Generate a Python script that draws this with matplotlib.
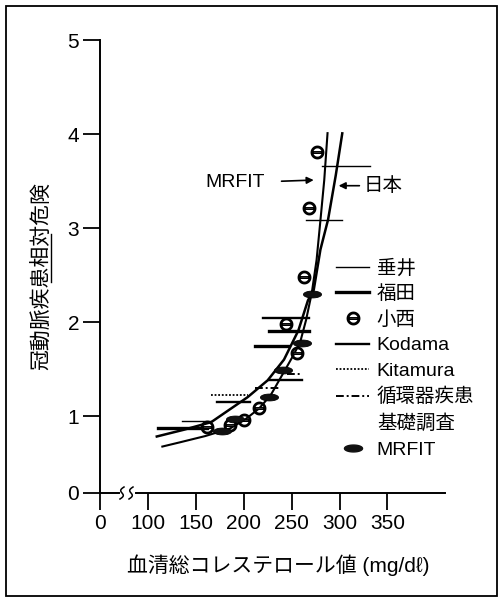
import numpy as np
import matplotlib
matplotlib.use("Agg")
import matplotlib.pyplot as plt
from matplotlib.path import Path
from matplotlib.lines import Line2D
from matplotlib.patches import Rectangle

plt.rcParams['font.family'] = ['Liberation Sans', 'Noto Sans CJK JP', 'DejaVu Sans']

# ---------------- data ----------------
x_ticks = [0, 100, 150, 200, 250, 300, 350]
x_tick_labels = ['0', '100', '150', '200', '250', '300', '350']
y_ticks = [0, 1, 2, 3, 4, 5]
y_tick_labels = ['0', '1', '2', '3', '4', '5']

# Japan curve (日本)
japan_x = [108, 137, 166, 204, 225, 242, 257, 267, 273, 280, 288, 296, 303]
japan_y = [0.73, 0.82, 0.92, 1.20, 1.38, 1.60, 1.91, 2.23, 2.34, 2.77, 3.09, 3.56, 4.02]
# MRFIT curve
mrfit_cx = [114, 134, 160, 186, 202, 216, 228, 242, 252, 259, 265, 271, 276, 280, 284, 287.5]
mrfit_cy = [0.60, 0.66, 0.74, 0.84, 0.96, 1.08, 1.22, 1.47, 1.65, 1.79, 2.02, 2.31, 2.66, 3.08, 3.51, 4.02]

# horizontal bars: (y, x_start, x_end)
tarui_y = [3.66, 3.08, 0.93]
tarui_x0 = [282, 265, 136]
tarui_x1 = [332, 303, 166]
fukuda_y = [1.90, 1.75, 0.84]
fukuda_x0 = [226, 212, 110]
fukuda_x1 = [268, 246, 162]
kodama_y = [2.04, 1.38, 1.15]
kodama_x0 = [220, 226, 172]
kodama_x1 = [268, 261, 207]
kitamura_y = [1.22]
kitamura_x0 = [166]
kitamura_x1 = [204]
junkanki_y = [1.45, 1.30]
junkanki_x0 = [245, 212]
junkanki_x1 = [261, 238]

# 小西 points
konishi_x = [276, 268, 263, 244, 256, 216, 200, 186, 162]
konishi_y = [3.81, 3.21, 2.48, 1.98, 1.67, 1.09, 0.95, 0.88, 0.86]
# MRFIT points
mrfit_px = [271.5, 261, 241, 226, 191, 177]
mrfit_py = [2.30, 1.78, 1.49, 1.20, 0.96, 0.80]

legend_labels = ['垂井', '福田', '小西', 'Kodama', 'Kitamura', '循環器疾患', '基礎調査', 'MRFIT']

# ---------------- scales (broken axes) ----------------
def fx(x):
    x = np.asarray(x, dtype=float)
    return np.where(x >= 100, x, 50 + 0.5 * x)

def ifx(u):
    u = np.asarray(u, dtype=float)
    return np.where(u >= 100, u, (u - 50) * 2)

def fy(y):
    y = np.asarray(y, dtype=float)
    return np.where(y >= 1, y, 1 - (1 - y) * 77 / 94)

def ify(v):
    v = np.asarray(v, dtype=float)
    return np.where(v >= 1, v, 1 - (1 - v) * 94 / 77)

W, H = 500, 598
fig = plt.figure(figsize=(W / 100, H / 100), dpi=100)
ax = fig.add_axes([100 / W, 1 - 493 / H, 345 / W, 453 / H])
ax.set_xscale('function', functions=(fx, ifx))
ax.set_yscale('function', functions=(fy, ify))
ax.set_xlim(0, 410)
ax.set_ylim(0, 5)

for s in ['top', 'right', 'bottom']:
    ax.spines[s].set_visible(False)
ax.spines['left'].set_linewidth(1.4)

ax.set_xticks(x_ticks)
ax.set_xticklabels(x_tick_labels)
ax.set_yticks(y_ticks)
ax.set_yticklabels(y_tick_labels)
ax.minorticks_off()
ax.tick_params(axis='both', direction='out', length=12, width=1.3, labelsize=15, pad=3)

# bottom axis line with break
xt = ax.get_xaxis_transform()
ax.plot([0, 40], [0, 0], color='black', lw=1.4, transform=xt, clip_on=False)
ax.plot([75, 410], [0, 0], color='black', lw=1.4, transform=xt, clip_on=False)
t = np.linspace(0, 1, 40)
for xc in [122, 131]:
    xs = (xc - 100 + 2.2 * np.sin(2 * np.pi * t) + (t - 0.5) * 4) / 345
    ys = (t - 0.5) * 12 / 453
    ax.plot(xs, ys, color='black', lw=1.1, transform=ax.transAxes, clip_on=False)

# curves
ax.plot(japan_x, japan_y, color='black', lw=1.8, solid_capstyle='butt')
ax.plot(mrfit_cx, mrfit_cy, color='black', lw=1.5, solid_capstyle='butt')

# bars
def bars(ys, x0s, x1s, **kw):
    for y, a, b in zip(ys, x0s, x1s):
        ax.plot([a, b], [y, y], color='black', **kw)

sty_tarui = dict(lw=1.0)
sty_fukuda = dict(lw=2.4)
sty_kodama = dict(lw=1.7)
sty_kitamura = dict(lw=1.3, linestyle=(0, (1, 1)))
sty_junkanki = dict(lw=1.4, linestyle=(0, (4, 1.5, 1, 1.5)))
bars(tarui_y, tarui_x0, tarui_x1, **sty_tarui)
bars(fukuda_y, fukuda_x0, fukuda_x1, **sty_fukuda)
bars(kodama_y, kodama_x0, kodama_x1, **sty_kodama)
bars(kitamura_y, kitamura_x0, kitamura_x1, **sty_kitamura)
bars(junkanki_y, junkanki_x0, junkanki_x1, **sty_junkanki)

konishi_marker = r'$\ominus$'
ax.plot(konishi_x, konishi_y, linestyle='none', marker=konishi_marker,
        markersize=9, color='black', markerfacecolor='white')

theta = np.linspace(0, 2 * np.pi, 60)
ell = Path(np.column_stack([np.cos(theta), 0.38 * np.sin(theta)]), closed=True)
ax.plot(mrfit_px, mrfit_py, linestyle='none', marker=ell, markersize=13,
        color='#111111', markeredgecolor='black', markeredgewidth=0.6)

# annotations
ax.annotate('MRFIT', xy=(273, 3.51), xytext=(191, 3.48), ha='center', va='center',
            fontsize=14,
            arrowprops=dict(arrowstyle='-|>', color='black', lw=1.2,
                            shrinkA=10, shrinkB=0, mutation_scale=10))
ax.annotate('日本', xy=(299, 3.45), xytext=(325, 3.45), ha='left', va='center',
            fontsize=14,
            arrowprops=dict(arrowstyle='-|>', color='black', lw=1.2,
                            shrinkA=1, shrinkB=0, mutation_scale=10))

# legend
handles = [
    Line2D([], [], color='black', **sty_tarui),
    Line2D([], [], color='black', **sty_fukuda),
    Line2D([], [], color='black', linestyle='none', marker=konishi_marker,
           markersize=9, markerfacecolor='white'),
    Line2D([], [], color='black', **sty_kodama),
    Line2D([], [], color='black', **sty_kitamura),
    Line2D([], [], color='black', **sty_junkanki),
    Line2D([], [], color='none'),
    Line2D([], [], color='#111111', linestyle='none', marker=ell, markersize=13),
]
leg = fig.legend(handles, legend_labels, loc='upper left',
                 bbox_to_anchor=(336 / W, 1 - 259 / H), frameon=False,
                 fontsize=14, handlelength=1.7, handletextpad=0.4,
                 labelspacing=0.41, borderpad=0, borderaxespad=0)

# axis labels
fig.text(41 / W, 1 - 276 / H, '冠動脈疾患相対危険', rotation=90, ha='center', va='center',
         fontsize=15)
fig.lines.append(Line2D([51 / W, 51 / W], [1 - 234 / H, 1 - 282 / H], color='black',
                        lw=1.0, transform=fig.transFigure))
fig.text(278 / W, 1 - 565 / H, '血清総コレステロール値 (mg/dℓ)', ha='center', va='center',
         fontsize=15)

# outer frame
fig.patches.append(Rectangle((6 / W, 2 / H), 491 / W, 590 / H, fill=False,
                             edgecolor='black', lw=1.3, transform=fig.transFigure))

fig.savefig('out.png', dpi=100)
